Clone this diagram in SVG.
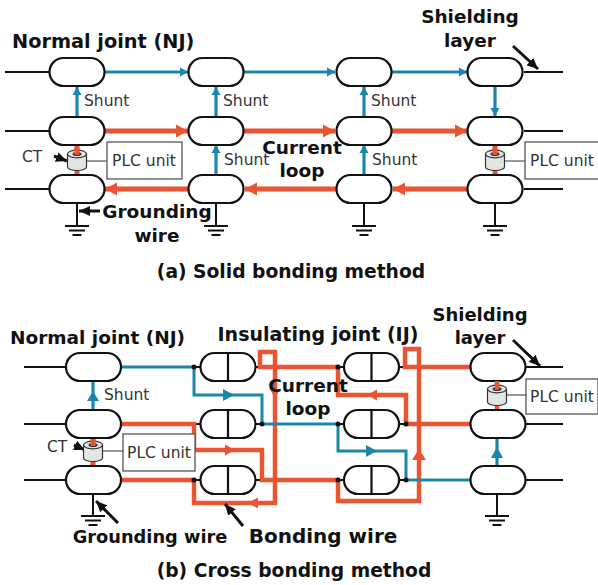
<svg xmlns="http://www.w3.org/2000/svg" width="598" height="585" viewBox="0 0 598 585">
<style>
text{font-family:"DejaVu Sans","Liberation Sans",sans-serif;fill:#111}
.b{font-weight:bold;font-size:18.5px}
.cap{font-weight:bold;font-size:18.7px}
.s{font-size:15.5px;fill:#333}
.nj{fill:#fff;stroke:#111;stroke-width:2.2}
.k{fill:none;stroke:#111;stroke-width:2}
.o{fill:none;stroke:#E95432;stroke-linejoin:miter}
.bl{fill:none;stroke:#1A86AD}
.fo{fill:#E95432}
.fb{fill:#1A86AD}
.pl{fill:#fff;stroke:#555;stroke-width:1.3}
.ln{stroke:#777;stroke-width:1.3;fill:none}
.ar{stroke:#111;stroke-width:3;fill:none}
</style>
<defs>
<rect id="nj" class="nj" x="-27.5" y="-14" width="55" height="28" rx="14" ry="14"/>
<g id="ij"><rect class="nj" x="-27.5" y="-14" width="55" height="28" rx="14" ry="14"/><line x1="0" y1="-14" x2="0" y2="14" stroke="#111" stroke-width="2.2"/></g>
<g id="gnd" fill="none" stroke="#111" stroke-width="2"><line x1="-12" x2="12" y1="0" y2="0"/><line x1="-8" x2="8" y1="4.500" y2="4.500"/><line x1="-4.500" x2="4.500" y1="9" y2="9"/></g>
<g id="ct"><path d="M-9.5,-6 V7 A9.5,3.5 0 0 0 9.5,7 V-6 Z" fill="#E3E5E3" stroke="#333" stroke-width="1.2"/><ellipse cx="0" cy="-6" rx="9.5" ry="3.8" fill="#E3E5E3" stroke="#333" stroke-width="1.2"/><ellipse cx="0" cy="-6" rx="4.5" ry="2" fill="#333"/></g>
<marker id="aO" markerUnits="userSpaceOnUse" markerWidth="14" markerHeight="14" refX="13" refY="7" orient="auto"><path d="M1,0.500 L13,7 L1,13.500 Z" fill="#E95432"/></marker>
<marker id="aB" markerUnits="userSpaceOnUse" markerWidth="10" markerHeight="10" refX="9" refY="5" orient="auto"><path d="M1,0.500 L9,5 L1,9.500 Z" fill="#1A86AD"/></marker>
<marker id="aK" markerUnits="userSpaceOnUse" markerWidth="12" markerHeight="10" refX="11" refY="5" orient="auto"><path d="M0,0 L11,5 L0,10 Z" fill="#111"/></marker>
</defs>
<g id="connectors-a">
<path class="k" d="M5,72H49M5,131H49M5,189H49M524,72H563M524,131H563M524,189H563"/>
<path class="k" d="M77,203V226M216,203V226M364,203V226M495,203V226"/>
<g stroke-width="3.2" class="bl"><path d="M104,72H188" marker-end="url(#aB)"/><path d="M244,72H335" marker-end="url(#aB)"/><path d="M392,72H467" marker-end="url(#aB)"/>
<path d="M77,117V87" marker-end="url(#aB)"/><path d="M216,117V87" marker-end="url(#aB)"/><path d="M364,116V87" marker-end="url(#aB)"/><path d="M495,86V116" marker-end="url(#aB)"/>
<path d="M216,175V145" marker-end="url(#aB)"/><path d="M364,175V145" marker-end="url(#aB)"/></g>
<g stroke-width="5" class="o"><path d="M103,131H188" marker-end="url(#aO)"/><path d="M244,131H335" marker-end="url(#aO)"/><path d="M392,131H467" marker-end="url(#aO)"/>
<path d="M190,189H105" marker-end="url(#aO)"/><path d="M336,189H245" marker-end="url(#aO)"/><path d="M467,189H393" marker-end="url(#aO)"/>
<path d="M77,145V178"/><path d="M495,145V178"/></g>
<path class="ln" d="M86,161H107M505,161H525"/>
<path class="ar" d="M100,211H79" marker-end="url(#aK)" stroke-width="2.5"/>
<path class="ar" d="M54,156L67,161" marker-end="url(#aK)" stroke-width="2"/>
<path class="ar" d="M513,46L538,69" marker-end="url(#aK)"/>
</g>
<g id="nj-a1"><use href="#nj" x="77" y="72"/></g>
<g id="nj-a2"><use href="#nj" x="216" y="72"/></g>
<g id="nj-a3"><use href="#nj" x="364" y="72"/></g>
<g id="nj-a4"><use href="#nj" x="495" y="72"/></g>
<g id="nj-a5"><use href="#nj" x="77" y="131"/></g>
<g id="nj-a6"><use href="#nj" x="216" y="131"/></g>
<g id="nj-a7"><use href="#nj" x="364" y="131"/></g>
<g id="nj-a8"><use href="#nj" x="495" y="131"/></g>
<g id="nj-a9"><use href="#nj" x="77" y="189"/></g>
<g id="nj-a10"><use href="#nj" x="216" y="189"/></g>
<g id="nj-a11"><use href="#nj" x="364" y="189"/></g>
<g id="nj-a12"><use href="#nj" x="495" y="189"/></g>
<g id="gnd-a"><use href="#gnd" x="77" y="226"/><use href="#gnd" x="216" y="226"/><use href="#gnd" x="364" y="226"/><use href="#gnd" x="495" y="226"/></g>
<g id="ct-a1"><use href="#ct" x="77" y="160"/><path d="M77,148V155" class="o" stroke-width="5"/></g>
<g id="ct-a2"><use href="#ct" x="495" y="160"/><path d="M495,148V155" class="o" stroke-width="5"/></g>
<g id="plc-a1"><rect class="pl" x="107" y="142" width="75" height="37"/><text class="s" x="144" y="166" text-anchor="middle">PLC unit</text></g>
<g id="plc-a2"><rect class="pl" x="525" y="142" width="74" height="37"/><text class="s" x="562" y="166" text-anchor="middle">PLC unit</text></g>
<g id="labels-a">
<text class="b" x="12" y="48" style="font-size:19.3px">Normal joint (NJ)</text>
<text class="b" x="470" y="23" text-anchor="middle">Shielding</text>
<text class="b" x="470" y="47" text-anchor="middle">layer</text>
<text class="s" x="84" y="106">Shunt</text><text class="s" x="223" y="106">Shunt</text><text class="s" x="371" y="106">Shunt</text>
<text class="s" x="224" y="165">Shunt</text><text class="s" x="372" y="165">Shunt</text>
<text class="s" x="22" y="162">CT</text>
<text class="b" x="302" y="154" text-anchor="middle">Current</text>
<text class="b" x="302" y="177" text-anchor="middle">loop</text>
<text class="b" x="157" y="218" text-anchor="middle">Grounding</text>
<text class="b" x="157" y="242" text-anchor="middle">wire</text>
<text class="cap" x="291" y="278" text-anchor="middle">(a) Solid bonding method</text>
</g>
<g id="connectors-b">
<path class="k" d="M24,367H67M24,424H67M24,480H67M525,367H563M525,424H563M525,480H563"/>
<path class="k" d="M93,494V516M497,494V516"/>
<path class="k" d="M194,367H201M194,424H201M194,480H201M255,367H262M255,424H262M255,480H262M338,367H344M338,424H344M338,480H344M399,367H406M399,424H406M399,480H406"/>
<g class="o" stroke-width="4.500"><path d="M120,424H194V450H262V480H338V501H419V349H405V367H471"/>
<path d="M120,480H194V503H275V352H260V367H338V395H406V424H471"/></g>
<g class="bl" stroke-width="3"><path d="M120,367H194V395H262V424H338V451H406V480H471"/></g>
<path class="bl" stroke-width="3.200" d="M93,411V381"/>
<path class="o" stroke-width="5" d="M93,437V469"/>
<path class="o" stroke-width="4.500" d="M497,381V410"/>
<path class="bl" stroke-width="3.200" d="M497,467V437"/>
<path class="fb" d="M491,458L497,447L503,458Z"/>
<path class="fb" d="M87,401L93,391L99,401Z"/>
<path class="fb" d="M223,389L234,395L223,401Z"/><path class="fb" d="M366,445L377,451L366,457Z"/>
<path class="fo" d="M225,444.500L235,450L225,455.500Z"/><path class="fo" d="M275,399L270,389H280Z"/><path class="fo" d="M258,497.500L248,503L258,508.500Z"/><path class="fo" d="M377,389.500L367,395L377,400.500Z"/><path class="fo" d="M419,449L412,460H426Z"/>
<g fill="#111"><circle cx="194" cy="367" r="2.5"/><circle cx="194" cy="480" r="2.5"/><circle cx="262" cy="424" r="2.5"/><circle cx="338" cy="367" r="2.5"/><circle cx="338" cy="424" r="2.5"/><circle cx="338" cy="480" r="2.5"/><circle cx="406" cy="424" r="2.5"/><circle cx="406" cy="480" r="2.5"/></g>
<path class="ln" d="M102,451H123M505,395H526"/>
<path class="ar" d="M74,445L85,450" marker-end="url(#aK)" stroke-width="2"/>
<path class="ar" d="M118,523L96,501" marker-end="url(#aK)"/>
<path class="ar" d="M243,526L225,504" marker-end="url(#aK)"/>
<path class="ar" d="M513,340L540,366" marker-end="url(#aK)"/>
</g>
<g id="nj-b1"><use href="#nj" x="93.500" y="367"/></g>
<g id="nj-b2"><use href="#nj" x="93.500" y="424"/></g>
<g id="nj-b3"><use href="#nj" x="93.500" y="480"/></g>
<g id="ij-b1"><use href="#ij" x="228" y="367"/></g>
<g id="ij-b2"><use href="#ij" x="228" y="424"/></g>
<g id="ij-b3"><use href="#ij" x="228" y="480"/></g>
<g id="ij-b4"><use href="#ij" x="371.500" y="367"/></g>
<g id="ij-b5"><use href="#ij" x="371.500" y="424"/></g>
<g id="ij-b6"><use href="#ij" x="371.500" y="480"/></g>
<g id="nj-b4"><use href="#nj" x="498" y="367"/></g>
<g id="nj-b5"><use href="#nj" x="498" y="424"/></g>
<g id="nj-b6"><use href="#nj" x="498" y="480"/></g>
<g id="gnd-b"><use href="#gnd" x="93" y="516"/><use href="#gnd" x="497" y="516"/></g>
<g id="ct-b1"><use href="#ct" x="93" y="451"/><path d="M93,439V446" class="o" stroke-width="5"/></g>
<g id="ct-b2"><use href="#ct" x="497" y="395"/><path d="M497,381V390" class="o" stroke-width="4.500"/></g>
<g id="plc-b1"><rect class="pl" x="123" y="434" width="72" height="37"/><text class="s" x="159" y="458" text-anchor="middle">PLC unit</text></g>
<g id="plc-b2"><rect class="pl" x="526" y="379" width="72" height="35"/><text class="s" x="562" y="402" text-anchor="middle">PLC unit</text></g>
<g id="labels-b">
<text class="b" x="10" y="344">Normal joint (NJ)</text>
<text class="b" x="318" y="341" text-anchor="middle" style="font-size:19px">Insulating joint (IJ)</text>
<text class="b" x="480" y="321" text-anchor="middle" style="font-size:18px">Shielding</text>
<text class="b" x="480" y="344" text-anchor="middle" style="font-size:18px">layer</text>
<text class="s" x="104" y="400">Shunt</text>
<text class="s" x="47" y="452">CT</text>
<text class="b" x="308" y="392" text-anchor="middle">Current</text>
<text class="b" x="308" y="415" text-anchor="middle">loop</text>
<text class="b" x="150" y="543" text-anchor="middle" style="font-size:17.8px">Grounding wire</text>
<text class="b" x="323" y="543" text-anchor="middle" style="font-size:20px">Bonding wire</text>
<text class="cap" x="294" y="577" text-anchor="middle">(b) Cross bonding method</text>
</g>
</svg>
